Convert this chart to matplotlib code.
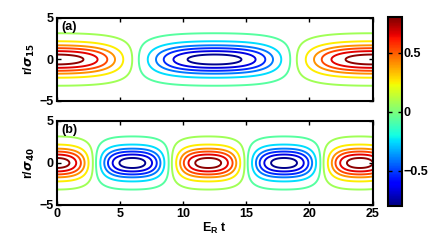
import numpy as np
import matplotlib
matplotlib.use("Agg")
import matplotlib.pyplot as plt
from matplotlib.colors import Normalize
from matplotlib.cm import ScalarMappable

plt.rcParams["font.family"] = ["Liberation Sans", "DejaVu Sans"]
plt.rcParams["font.weight"] = "bold"
plt.rcParams["font.size"] = 9

# values
amplitude = 0.85         # peak value of the field
cbar_limit = 0.8         # colour bar range is +/- this
beam_width = 2.0         # gaussian width in r/sigma
period_a = 25.0          # oscillation period, panel (a)
period_b = 12.0          # oscillation period, panel (b)
flatten = 1.15           # time profile h = sin(k cos(wt)) / sin(k)
levels_pos = [0.07, 0.255, 0.41, 0.535, 0.66, 0.778]
levels = sorted([-v for v in levels_pos] + levels_pos)
t_ticks = [0, 5, 10, 15, 20, 25]
r_ticks = [-5, 0, 5]
cbar_ticks = [-0.5, 0, 0.5]
panel_labels = ["(a)", "(b)"]
y_labels = [r"r/$\sigma_{15}$", r"r/$\sigma_{40}$"]

t = np.linspace(0, 25, 601)
r = np.linspace(-5, 5, 301)
T, R = np.meshgrid(t, r)

norm = Normalize(vmin=-cbar_limit, vmax=cbar_limit)
cmap = plt.get_cmap("jet")

fig = plt.figure(figsize=(4.36, 2.45), dpi=100)
ax_a = fig.add_axes([0.1296, 0.5878, 0.7248, 0.3388])
ax_b = fig.add_axes([0.1296, 0.1633, 0.7248, 0.3429])
cax = fig.add_axes([0.889, 0.159, 0.0335, 0.770])

panels = zip([ax_a, ax_b], [period_a, period_b], panel_labels, y_labels)
for ax, period, lab, ylab in panels:
    h = np.sin(flatten * np.cos(2 * np.pi * T / period)) / np.sin(flatten)
    field = amplitude * h * np.exp(-(R / beam_width) ** 2)
    ax.contour(T, R, field, levels=levels, cmap=cmap, norm=norm, linewidths=1.4)
    ax.set_xlim(0, 25)
    ax.set_ylim(-5, 5)
    ax.set_xticks(t_ticks)
    ax.set_yticks(r_ticks)
    ax.tick_params(direction="in", top=True, right=True, length=3, width=1, pad=2)
    for s in ax.spines.values():
        s.set_linewidth(1.5)
    ax.set_ylabel(ylab, fontweight="bold", labelpad=2)
    ax.text(0.015, 0.96, lab, transform=ax.transAxes, ha="left", va="top",
            fontweight="bold", fontsize=9)

ax_a.set_xticklabels([])
ax_b.set_xlabel(r"E$_\mathregular{R}$ t", fontweight="bold", labelpad=1)

cb = fig.colorbar(ScalarMappable(norm=norm, cmap=cmap), cax=cax, ticks=cbar_ticks)
cb.ax.tick_params(direction="in", length=3, width=1, pad=1, left=True)
cb.outline.set_linewidth(1.5)
cb.ax.set_yticklabels(["\u22120.5", "0", "0.5"])

fig.savefig("out.png", dpi=100)
